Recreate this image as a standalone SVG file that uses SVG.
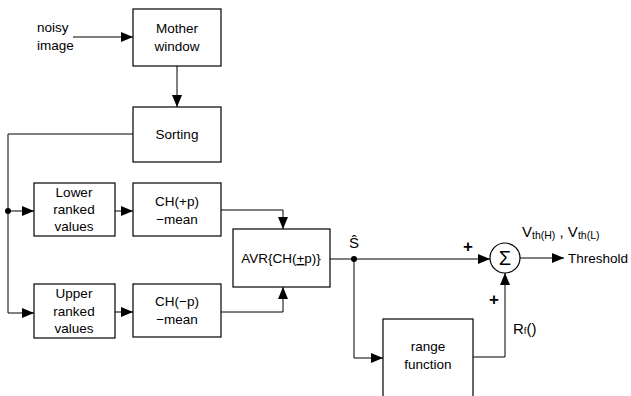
<svg xmlns="http://www.w3.org/2000/svg" width="631" height="396" viewBox="0 0 631 396">
<defs>
<marker id="ah" viewBox="0 0 12 10" refX="12" refY="5" markerWidth="12" markerHeight="10" markerUnits="userSpaceOnUse" orient="auto">
<path d="M0,0 L12,5 L0,10 Z" fill="#000"/>
</marker>
<style>
.box{fill:#fff;stroke:#000;stroke-width:1.2}
.ln{fill:none;stroke:#000;stroke-width:1}
.t{font-family:"Liberation Sans",Arial,sans-serif;font-size:13.5px;fill:#000;text-anchor:middle}
.tl{font-family:"Liberation Sans",Arial,sans-serif;font-size:13.5px;fill:#000}
</style>
</defs>
<rect width="631" height="396" fill="#fff"/>
<g id="connectors">
<line class="ln" x1="73" y1="37" x2="133" y2="37" marker-end="url(#ah)"/>
<line class="ln" x1="177" y1="66" x2="177" y2="107" marker-end="url(#ah)"/>
<polyline class="ln" points="133,134 8,134 8,313 34,313" marker-end="url(#ah)"/>
<line class="ln" x1="8" y1="211" x2="34" y2="211" marker-end="url(#ah)"/>
<circle cx="8" cy="211" r="3" fill="#000"/>
<line class="ln" x1="115" y1="211" x2="133" y2="211" marker-end="url(#ah)"/>
<line class="ln" x1="115" y1="312" x2="133" y2="312" marker-end="url(#ah)"/>
<polyline class="ln" points="221,210 283,210 283,229" marker-end="url(#ah)"/>
<polyline class="ln" points="221,312 283,312 283,287" marker-end="url(#ah)"/>
<line class="ln" x1="330" y1="259" x2="490" y2="259" marker-end="url(#ah)"/>
<circle cx="354" cy="259" r="3" fill="#000"/>
<polyline class="ln" points="354,259 354,358 383,358" marker-end="url(#ah)"/>
<polyline class="ln" points="473,357 505,357 505,273" marker-end="url(#ah)"/>
<line class="ln" x1="520" y1="258" x2="564" y2="258" marker-end="url(#ah)"/>
</g>
<g id="noisy_image">
<text class="tl" x="37" y="32">noisy</text>
<text class="tl" x="37" y="50">image</text>
</g>
<g id="mother_window">
<rect class="box" x="133" y="9" width="88" height="57"/>
<text class="t" x="177" y="33">Mother</text>
<text class="t" x="177" y="51">window</text>
</g>
<g id="sorting">
<rect class="box" x="133" y="107" width="88" height="55"/>
<text class="t" x="177" y="139">Sorting</text>
</g>
<g id="lower">
<rect class="box" x="34" y="183" width="81" height="53"/>
<text class="t" x="74" y="197">Lower</text>
<text class="t" x="74" y="214">ranked</text>
<text class="t" x="74" y="231">values</text>
</g>
<g id="chp">
<rect class="box" x="133" y="183" width="88" height="53"/>
<text class="t" x="177" y="206">CH(+p)</text>
<text class="t" x="177" y="224">−mean</text>
</g>
<g id="upper">
<rect class="box" x="34" y="284" width="81" height="54"/>
<text class="t" x="74" y="298">Upper</text>
<text class="t" x="74" y="316">ranked</text>
<text class="t" x="74" y="333">values</text>
</g>
<g id="chm">
<rect class="box" x="133" y="284" width="88" height="53"/>
<text class="t" x="177" y="306">CH(−p)</text>
<text class="t" x="177" y="324">−mean</text>
</g>
<g id="avr">
<rect class="box" x="233" y="229" width="97" height="58"/>
<text class="t" x="281" y="263">AVR{CH(<tspan text-decoration="underline">+</tspan>p)}</text>
</g>
<g id="s_hat">
<text class="t" x="354" y="248" style="font-size:15px">Ŝ</text>
</g>
<g id="sum">
<circle cx="505" cy="258" r="15" fill="#fff" stroke="#000" stroke-width="1.2"/>
<text class="t" x="505" y="265" style="font-size:20px">Σ</text>
<text class="t" x="468" y="252" style="font-size:17px;font-weight:bold">+</text>
<text class="t" x="494" y="305" style="font-size:17px;font-weight:bold">+</text>
</g>
<g id="vth">
<text class="tl" x="522" y="237" style="font-size:15px">V<tspan style="font-size:10.5px" dy="2">th(H)</tspan><tspan dy="-2"> , V</tspan><tspan style="font-size:10.5px" dy="2">th(L)</tspan></text>
</g>
<g id="threshold">
<text class="tl" x="568" y="263">Threshold</text>
</g>
<g id="range_function">
<rect class="box" x="383" y="319" width="90" height="85"/>
<text class="t" x="428" y="351">range</text>
<text class="t" x="428" y="369">function</text>
</g>
<g id="rf">
<text class="tl" x="513" y="334" style="font-size:15px">R<tspan style="font-size:9.5px">f</tspan>()</text>
</g>
</svg>
